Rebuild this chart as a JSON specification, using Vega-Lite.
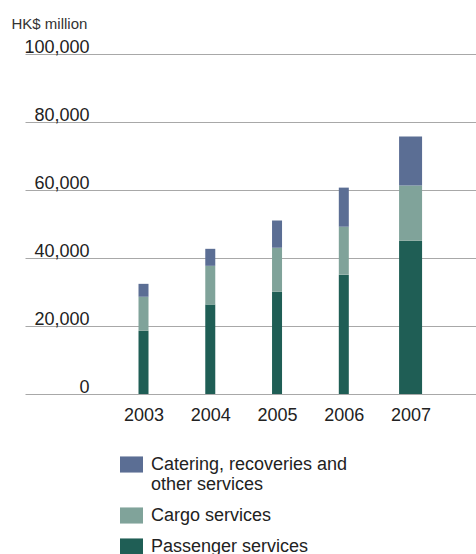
{
  "$schema": "https://vega.github.io/schema/vega-lite/v6.json",
  "width": 451,
  "height": 340,
  "autosize": "none",
  "padding": {"left": 25, "top": 54, "right": 0, "bottom": 160},
  "background": "white",
  "config": {"view": {"stroke": null}, "font": "Liberation Sans"},
  "data": {"values": [
    {"year": 2003, "segment": "Passenger services", "value": 18600},
    {"year": 2003, "segment": "Cargo services", "value": 10000},
    {"year": 2003, "segment": "Catering, recoveries and other services", "value": 3800},
    {"year": 2004, "segment": "Passenger services", "value": 26300},
    {"year": 2004, "segment": "Cargo services", "value": 11400},
    {"year": 2004, "segment": "Catering, recoveries and other services", "value": 5000},
    {"year": 2005, "segment": "Passenger services", "value": 30100},
    {"year": 2005, "segment": "Cargo services", "value": 12900},
    {"year": 2005, "segment": "Catering, recoveries and other services", "value": 8000},
    {"year": 2006, "segment": "Passenger services", "value": 35100},
    {"year": 2006, "segment": "Cargo services", "value": 14100},
    {"year": 2006, "segment": "Catering, recoveries and other services", "value": 11500},
    {"year": 2007, "segment": "Passenger services", "value": 45100},
    {"year": 2007, "segment": "Cargo services", "value": 16200},
    {"year": 2007, "segment": "Catering, recoveries and other services", "value": 14400}
  ]},
  "transform": [
    {"calculate": "indexof(['Passenger services','Cargo services','Catering, recoveries and other services'], datum.segment)", "as": "stackorder"}
  ],
  "mark": {"type": "bar"},
  "encoding": {
    "x": {
      "field": "year", "type": "quantitative",
      "scale": {"domain": [2001.30, 2007.905], "nice": false, "zero": false},
      "axis": {"title": null, "labelAngle": 0, "ticks": false, "domain": false, "labelPadding": 12, "labelFontSize": 18, "labelColor": "#222222", "grid": false, "values": [2003, 2004, 2005, 2006, 2007], "format": "d", "labelFlush": false, "labelOverlap": false}
    },
    "y": {
      "field": "value", "type": "quantitative", "stack": "zero",
      "scale": {"domain": [0, 100000], "nice": false},
      "axis": {
        "title": "HK$ million", "titleAngle": 0, "titleAlign": "left", "titleBaseline": "alphabetic",
        "titleX": -14, "titleY": -26, "titleFontSize": 15, "titleFontWeight": "normal", "titleColor": "#333333",
        "labelAlign": "right", "labelBaseline": "alphabetic", "labelPadding": -64, "labelOffset": -2,
        "labelFontSize": 18, "labelColor": "#222222", "labelFlush": false, "labelOverlap": false,
        "ticks": false, "domain": false, "grid": true, "gridColor": "#a8a8a8", "gridWidth": 1,
        "values": [0, 20000, 40000, 60000, 80000, 100000], "format": ",d"
      }
    },
    "color": {
      "field": "segment", "type": "nominal",
      "scale": {
        "domain": ["Catering, recoveries and other services", "Cargo services", "Passenger services"],
        "range": ["#5b6e94", "#80a39a", "#1f5e55"]
      },
      "legend": {
        "orient": "none", "legendX": 95, "legendY": 399, "title": null, "padding": 0,
        "symbolType": "M-1,-0.7H1V0.7H-1Z", "symbolSize": 529, "symbolStrokeWidth": 0,
        "labelFontSize": 18, "labelColor": "#222222", "labelOffset": 8, "rowPadding": 10, "labelLimit": 0,
        "labelExpr": "datum.label == 'Catering, recoveries and other services' ? ['Catering, recoveries and', 'other services'] : datum.label"
      }
    },
    "order": {"field": "stackorder", "type": "quantitative"},
    "size": {"condition": {"test": "datum.year == 2007", "value": 23}, "value": 10}
  }
}
